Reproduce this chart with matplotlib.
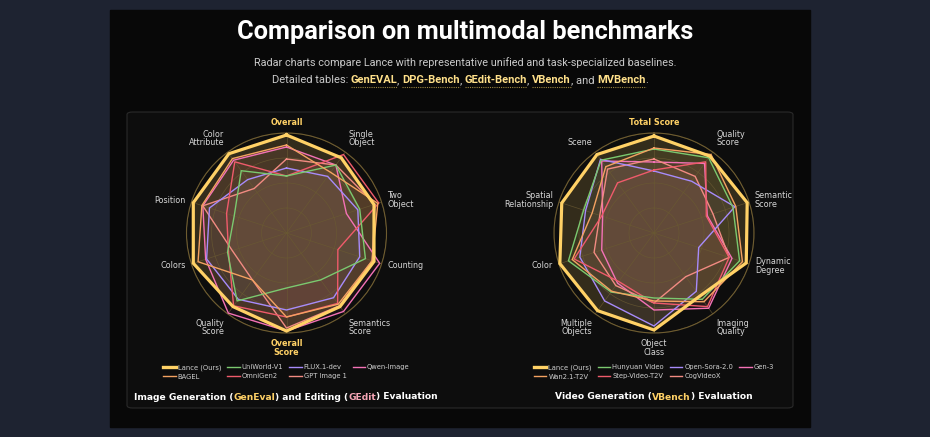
import numpy as np
import matplotlib.pyplot as plt
from matplotlib.patches import FancyBboxPatch, Rectangle
from matplotlib.lines import Line2D

W, H = 930, 437

# ---- image generation / editing radar (GenEval + GEdit) ----
img_axes = ["Overall", "Single\nObject", "Two\nObject", "Counting", "Semantics\nScore",
            "Overall\nScore", "Quality\nScore", "Colors", "Position", "Color\nAttribute"]
img_names = ["Lance (Ours)", "BAGEL", "UniWorld-V1", "OmniGen2", "FLUX.1-dev",
             "GPT Image 1", "Qwen-Image"]
img_colors = ["#ffd166", "#f4a261", "#7bc96f", "#ef5b6b", "#a78bfa", "#f28b82", "#f472b6"]
img_lance = [0.98, 0.93, 0.92, 0.92, 0.91, 0.98, 0.91, 0.98, 0.98, 0.98]
img_bagel = [0.88, 0.75, 0.96, 0.90, 0.88, 0.84, 0.58, 0.93, 0.89, 0.92]
img_uniworld = [0.57, 0.84, 0.77, 0.83, 0.58, 0.55, 0.84, 0.62, 0.55, 0.77]
img_omnigen2 = [0.57, 0.97, 0.97, 0.54, 0.87, 0.84, 0.90, 0.61, 0.63, 0.88]
img_flux = [0.65, 0.70, 0.75, 0.77, 0.80, 0.77, 0.82, 0.84, 0.81, 0.66]
img_gpt = [0.74, 0.84, 0.93, 0.90, 0.90, 0.95, 0.58, 0.57, 0.88, 0.55]
img_qwen = [0.86, 0.84, 0.63, 0.98, 0.97, 0.98, 0.99, 0.85, 0.88, 0.90]
img_series = [img_lance, img_bagel, img_uniworld, img_omnigen2, img_flux, img_gpt, img_qwen]

# ---- video generation radar (VBench) ----
vid_axes = ["Total Score", "Quality\nScore", "Semantic\nScore", "Dynamic\nDegree",
            "Imaging\nQuality", "Object\nClass", "Multiple\nObjects", "Color",
            "Spatial\nRelationship", "Scene"]
vid_names = ["Lance (Ours)", "Wan2.1-T2V", "Hunyuan Video", "Step-Video-T2V",
             "Open-Sora-2.0", "CogVideoX", "Gen-3"]
vid_colors = ["#ffd166", "#f4a261", "#7bc96f", "#ef5b6b", "#a78bfa", "#f28b82", "#f472b6"]
vid_lance = [0.97, 0.95, 0.98, 0.97, 0.78, 0.97, 0.96, 0.99, 0.97, 0.97]
vid_wan = [0.85, 0.97, 0.86, 0.93, 0.85, 0.68, 0.72, 0.86, 0.65, 0.82]
vid_hunyuan = [0.84, 0.93, 0.83, 0.90, 0.82, 0.65, 0.73, 0.90, 0.74, 0.90]
vid_step = [0.63, 0.88, 0.55, 0.79, 0.91, 0.70, 0.60, 0.84, 0.55, 0.62]
vid_opensora = [0.62, 0.64, 0.85, 0.47, 0.72, 0.93, 0.84, 0.78, 0.72, 0.91]
vid_cog = [0.74, 0.70, 0.62, 0.79, 0.54, 0.70, 0.65, 0.63, 0.57, 0.79]
vid_gen3 = [0.71, 0.86, 0.56, 0.82, 0.93, 0.77, 0.62, 0.55, 0.54, 0.89]
vid_series = [vid_lance, vid_wan, vid_hunyuan, vid_step, vid_opensora, vid_cog, vid_gen3]

GOLD = "#ffd166"
LINK = "#ffe08a"
GRID = "#6a5a32"

fig = plt.figure(figsize=(W / 100, H / 100), dpi=100)
fig.patch.set_facecolor("#1e2331")


def fx(x):
    return x / W


def fy(y):
    return 1 - y / H


# black page + rounded panel
fig.patches.append(Rectangle((fx(110), fy(427)), fx(700), 417 / H,
                             transform=fig.transFigure, color="#080808", zorder=-2))
fig.patches.append(FancyBboxPatch((fx(127), fy(408)), fx(666), 296 / H,
                                  boxstyle="round,pad=0,rounding_size=0.006",
                                  transform=fig.transFigure, facecolor="#0d0d0d",
                                  edgecolor="#2a2a2a", lw=0.8, zorder=-1))


def radar(cx, cy, labels, series, names, colors, bold_idx):
    r = 100
    ax = fig.add_axes([fx(cx - r), fy(cy + r), 2 * r / W, 2 * r / H], projection="polar")
    ax.set_zorder(2)
    ax.set_facecolor("none")
    ax.set_theta_offset(np.pi / 2)
    ax.set_theta_direction(-1)
    n = len(labels)
    ang = np.linspace(0, 2 * np.pi, n, endpoint=False)
    ax.set_xticks(ang)
    ax.set_xticklabels([])
    ax.set_yticks([0.25, 0.5, 0.75, 1.0])
    ax.set_yticklabels([])
    ax.set_ylim(0, 1.0)
    ax.grid(color=GRID, lw=0.5, alpha=0.8)
    ax.spines["polar"].set_color("#6e5c30")
    ax.spines["polar"].set_linewidth(0.8)
    ax.tick_params(length=0)
    closed = np.append(ang, ang[0])
    for i in range(len(series) - 1, -1, -1):
        vals = np.append(series[i], series[i][0])
        lance = i == 0
        ax.fill(closed, vals, color=colors[i], alpha=0.16 if lance else 0.06, lw=0, zorder=1)
        ax.plot(closed, vals, color=colors[i], lw=2.3 if lance else 1.0,
                zorder=4 if lance else 3, solid_joinstyle="miter", clip_on=False)
    for k, (a, lab) in enumerate(zip(ang, labels)):
        s, c = np.sin(a), np.cos(a)
        ha = "left" if s > 0.1 else ("right" if s < -0.1 else "center")
        va = "bottom" if c > 0.5 else ("top" if c < -0.5 else "center")
        bold = k in bold_idx
        ax.text(a, 1.06, lab, ha=ha, va=va, fontsize=5.8, linespacing=0.95,
                color=GOLD if bold else "#d6d6d6",
                fontweight="bold" if bold else "normal")
    handles = [Line2D([], [], color=colors[i], lw=2.4 if i == 0 else 1.0)
               for i in range(len(names))]
    leg = fig.legend(handles, names, loc="center", bbox_to_anchor=(fx(cx), fy(372)),
                     ncol=4, fontsize=4.9, frameon=False, handlelength=1.8,
                     handletextpad=0.3, columnspacing=0.9, labelspacing=0.45)
    for t in leg.get_texts():
        t.set_color("#cfcfcf")
    return ax


radar(286.5, 233, img_axes, img_series, img_names, img_colors, [0, 5])
radar(654, 233, vid_axes, vid_series, vid_names, vid_colors, [0])

fig.canvas.draw()
rend = fig.canvas.get_renderer()


def rich_line(parts, x, y, size, family, center=True, underline=False):
    # parts: (text, color, bold)
    objs = []
    for txt, col, bold in parts:
        t = fig.text(0, fy(y), txt, fontsize=size, color=col, family=family,
                     fontweight="bold" if bold else "normal", va="center", ha="left")
        objs.append(t)
    widths = [t.get_window_extent(rend).width for t in objs]
    total = sum(widths)
    x0 = x - total / 2 if center else x
    for (txt, col, bold), t, w in zip(parts, objs, widths):
        t.set_x(fx(x0))
        if underline and bold:
            fig.lines.append(Line2D([fx(x0), fx(x0 + w)], [fy(y + 7), fy(y + 7)],
                                    transform=fig.transFigure, color="#9a8540", lw=0.8,
                                    ls=(0, (1, 1))))
        x0 += w


fig.text(0.5, fy(32), "Comparison on multimodal benchmarks", ha="center", va="center",
         fontsize=18.3, fontweight="bold", color="white", family="Roboto")
fig.text(0.5, fy(63), "Radar charts compare Lance with representative unified and "
         "task-specialized baselines.", ha="center", va="center", fontsize=7.8,
         color="#c9c9c9", family="Roboto")

grey = "#c9c9c9"
rich_line([("Detailed tables: ", grey, False), ("GenEVAL", LINK, True), (", ", grey, False),
           ("DPG-Bench", LINK, True), (", ", grey, False), ("GEdit-Bench", LINK, True),
           (", ", grey, False), ("VBench", LINK, True), (", and ", grey, False),
           ("MVBench", LINK, True), (".", grey, False)],
          460, 80, 8.0, "Roboto", underline=True)

rich_line([("Image Generation (", "white", True), ("GenEval", GOLD, True),
           (") and Editing (", "white", True), ("GEdit", "#f6a5b5", True),
           (") Evaluation", "white", True)],
          134, 397, 6.6, "DejaVu Sans", center=False)
rich_line([("Video Generation (", "white", True), ("VBench", GOLD, True),
           (") Evaluation", "white", True)],
          654, 397, 6.6, "DejaVu Sans")

fig.savefig("out.png", dpi=100, facecolor=fig.get_facecolor())
